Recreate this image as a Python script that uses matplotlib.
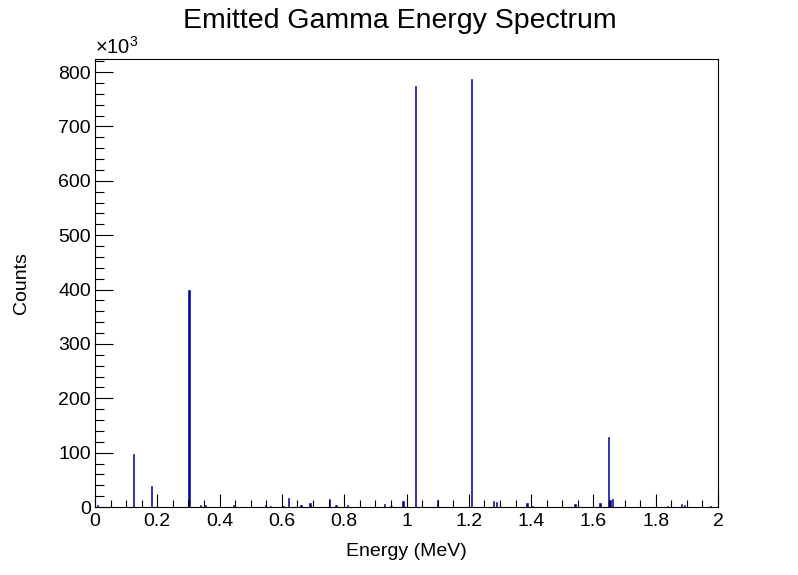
import matplotlib
matplotlib.use("Agg")
import matplotlib.pyplot as plt
from matplotlib.ticker import MultipleLocator, FuncFormatter

plt.rcParams['font.family'] = ['Liberation Sans', 'DejaVu Sans']
plt.rcParams['mathtext.fontset'] = 'custom'
plt.rcParams['mathtext.rm'] = 'Liberation Sans'

# peak energies (MeV) and counts
energy = [0.007, 0.122, 0.180, 0.300, 0.336, 0.352, 0.443, 0.545, 0.562, 0.604,
          0.620, 0.659, 0.688, 0.751, 0.772, 0.808, 0.928, 0.948, 0.987, 1.027,
          1.098, 1.207, 1.278, 1.287, 1.385, 1.403, 1.539, 1.619, 1.647, 1.651,
          1.660, 1.837, 1.882, 1.891, 1.973]
counts = [4000, 97000, 38500, 400000, 4000, 3000, 3000, 3000, 2000, 2000,
          17000, 4000, 7000, 14000, 3000, 3000, 5500, 2000, 11000, 774000,
          13000, 787000, 11000, 9000, 8000, 2000, 6000, 8000, 128000, 13000,
          15000, 2000, 6000, 4000, 2000]

bin_w = 0.004
blue = '#000099'

fig = plt.figure(figsize=(7.98, 5.75), dpi=100)
ax = fig.add_axes([95 / 798, 68 / 575, 623 / 798, 448 / 575])

ax.bar(energy, counts, width=bin_w, color=blue, edgecolor=blue, linewidth=0.4, align='edge')

ax.set_xlim(0, 2)
ax.set_ylim(0, 824000)

ax.xaxis.set_major_locator(MultipleLocator(0.2))
ax.xaxis.set_minor_locator(MultipleLocator(0.05))
ax.yaxis.set_major_locator(MultipleLocator(100000))
ax.yaxis.set_minor_locator(MultipleLocator(20000))
ax.xaxis.set_major_formatter(FuncFormatter(lambda v, p: '%g' % round(v, 2)))
ax.yaxis.set_major_formatter(FuncFormatter(lambda v, p: '%d' % round(v / 1000)))

ax.tick_params(axis='both', which='both', direction='in', labelsize=14, width=0.8,
               top=False, right=False)
ax.tick_params(axis='x', which='major', length=9.4, pad=4.5)
ax.tick_params(axis='x', which='minor', length=5)
ax.tick_params(axis='y', which='major', length=13, pad=3)
ax.tick_params(axis='y', which='minor', length=6.5)

for s in ax.spines.values():
    s.set_linewidth(0.8)

ax.set_xlabel('Energy (MeV)', fontsize=14, labelpad=9)
ax.set_ylabel('Counts', fontsize=14, labelpad=20)
fig.text(400 / 798, 1 - 27.5 / 575, 'Emitted Gamma Energy Spectrum', fontsize=20.5,
         ha='center', va='baseline')
ax.text(0, 1.003, r'$\times10^{3}$', transform=ax.transAxes, fontsize=14.5,
        ha='left', va='bottom')

fig.savefig('out.png', dpi=100)
